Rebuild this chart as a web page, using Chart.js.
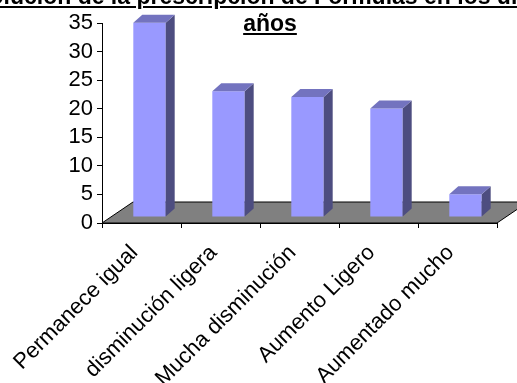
<!DOCTYPE html>
<html lang="es">
<head>
    <meta charset="UTF-8">
    <title>Evolución de la prescripción de Fórmulas</title>
    <script src="https://cdn.jsdelivr.net/npm/chart.js"></script>
    <style>
        body { margin: 0; background: #fff; overflow: hidden; }
        #wrap { position: relative; width: 517px; height: 383px; overflow: hidden; }
        #title {
            position: absolute; top: -17px; left: -200px; width: 940px;
            text-align: center; white-space: nowrap;
            font: bold 23px "Liberation Sans", Arial, sans-serif;
            line-height: 27px; text-decoration: underline; color: #000;
            z-index: 2;
        }
    </style>
</head>
<body>
<div id="wrap">
    <div id="title">Evolución de la prescripción de Fórmulas en los últimos<br>años</div>
    <canvas id="chart"></canvas>
</div>
<script>
    // data
    const categories = ['Permanece igual', 'disminución ligera', 'Mucha disminución', 'Aumento Ligero', 'Aumentado mucho'];
    const values = [34, 22, 21, 19, 4];
    const yMax = 35;
    const yStep = 5;

    // fake 3D: floor depth and bar depth
    const floorDepth = { dx: 31, dy: -21 };
    const barShift = { dx: 8, dy: -6 };
    const barDepth = { dx: 9, dy: -8 };

    const bar3d = {
        id: 'bar3d',
        beforeDatasetsDraw(chart) {
            const ctx = chart.ctx;
            const a = chart.chartArea;
            // grey floor
            ctx.save();
            ctx.beginPath();
            ctx.moveTo(a.left, a.bottom);
            ctx.lineTo(a.right, a.bottom);
            ctx.lineTo(a.right + floorDepth.dx, a.bottom + floorDepth.dy);
            ctx.lineTo(a.left + floorDepth.dx, a.bottom + floorDepth.dy);
            ctx.closePath();
            ctx.fillStyle = '#808080';
            ctx.fill();
            ctx.strokeStyle = '#000';
            ctx.lineWidth = 1;
            ctx.stroke();
            ctx.restore();
            // bars sit in the middle of the floor
            ctx.save();
            ctx.translate(barShift.dx, barShift.dy);
        },
        afterDatasetsDraw(chart) {
            const ctx = chart.ctx;
            chart.getDatasetMeta(0).data.forEach(bar => {
                const p = bar.getProps(['x', 'y', 'base', 'width'], true);
                const l = p.x - p.width / 2, r = p.x + p.width / 2;
                // side face
                ctx.beginPath();
                ctx.moveTo(r, p.y);
                ctx.lineTo(r + barDepth.dx, p.y + barDepth.dy);
                ctx.lineTo(r + barDepth.dx, p.base + barDepth.dy);
                ctx.lineTo(r, p.base);
                ctx.closePath();
                ctx.fillStyle = '#4d4d80';
                ctx.fill();
                // top face
                ctx.beginPath();
                ctx.moveTo(l, p.y);
                ctx.lineTo(l + barDepth.dx, p.y + barDepth.dy);
                ctx.lineTo(r + barDepth.dx, p.y + barDepth.dy);
                ctx.lineTo(r, p.y);
                ctx.closePath();
                ctx.fillStyle = '#7373bf';
                ctx.fill();
            });
            ctx.restore();
        }
    };

    new Chart(document.getElementById('chart'), {
        type: 'bar',
        data: {
            labels: categories,
            datasets: [{
                data: values,
                backgroundColor: '#9999ff',
                borderWidth: 0,
                barPercentage: 0.41,
                categoryPercentage: 1,
                clip: false
            }]
        },
        options: {
            responsive: true,
            maintainAspectRatio: false,
            animation: false,
            layout: { padding: { top: 23, right: 20, left: 0, bottom: 0 } },
            plugins: { legend: { display: false }, tooltip: { enabled: false }, title: { display: false } },
            scales: {
                x: {
                    afterFit(scale) { scale.height = 160; },
                    grid: { drawOnChartArea: false, color: '#000', tickLength: 5 },
                    border: { color: '#000' },
                    ticks: {
                        color: '#000', maxRotation: 45, minRotation: 45, padding: 12,
                        labelOffset: -7, autoSkip: false,
                        font: { family: '"Liberation Sans", Arial, sans-serif', size: 22 }
                    }
                },
                y: {
                    min: 0, max: yMax,
                    afterFit(scale) { scale.width = 102; },
                    grid: { drawOnChartArea: false, color: '#000', tickLength: 5 },
                    border: { color: '#000' },
                    ticks: {
                        stepSize: yStep, color: '#000', padding: 4, autoSkip: false,
                        font: { family: '"Liberation Sans", Arial, sans-serif', size: 22 }
                    }
                }
            }
        },
        plugins: [bar3d]
    });
</script>
</body>
</html>
